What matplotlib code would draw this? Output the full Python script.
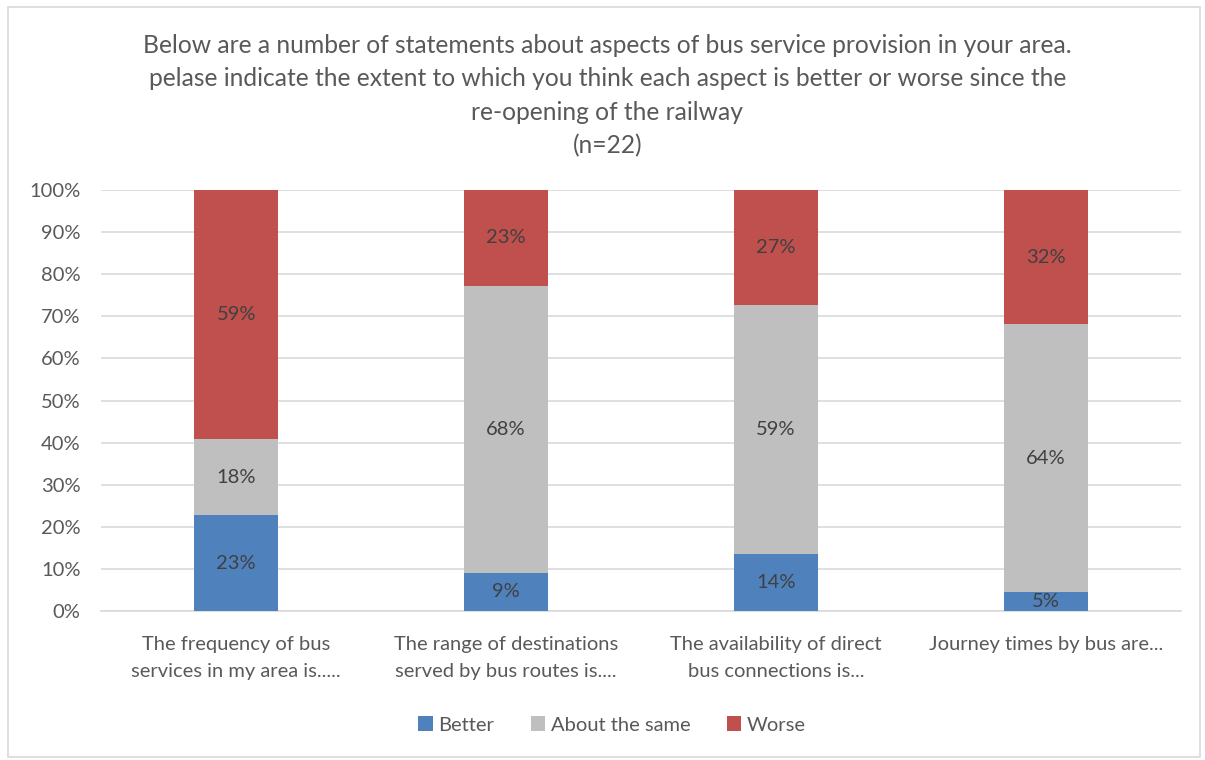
import matplotlib.pyplot as plt
from matplotlib.patches import Rectangle
import numpy as np

plt.rcParams['font.family'] = ['Lato', 'DejaVu Sans']

categories = ['The frequency of bus\nservices in my area is.....',
              'The range of destinations\nserved by bus routes is....',
              'The availability of direct\nbus connections is...',
              'Journey times by bus are...']
better = [22.7, 9.1, 13.6, 4.5]
same = [18.2, 68.2, 59.1, 63.6]
worse = [59.1, 22.7, 27.3, 31.8]
better_lbl = ['23%', '9%', '14%', '5%']
same_lbl = ['18%', '68%', '59%', '64%']
worse_lbl = ['59%', '23%', '27%', '32%']

colors = {'Better': '#4F81BD', 'About the same': '#BFBFBF', 'Worse': '#C0504D'}
text_col = '#595959'
fs = 14.5

fig = plt.figure(figsize=(12.05, 7.6), dpi=100)
ax = fig.add_axes([0.084, 0.196, 0.896, 0.554])

x = np.arange(len(categories))
w = 0.31
b1 = ax.bar(x, better, w, color=colors['Better'], label='Better', zorder=3)
b2 = ax.bar(x, same, w, bottom=better, color=colors['About the same'], label='About the same', zorder=3)
bottom3 = np.array(better) + np.array(same)
b3 = ax.bar(x, worse, w, bottom=bottom3, color=colors['Worse'], label='Worse', zorder=3)

for bars, labels in [(b1, better_lbl), (b2, same_lbl), (b3, worse_lbl)]:
    ax.bar_label(bars, labels=labels, label_type='center', color='#404040', fontsize=fs)

ax.set_xlim(-0.5, len(categories) - 0.5)
ax.set_ylim(0, 100)
ax.set_yticks(range(0, 101, 10))
ax.set_yticklabels([f'{v}%' for v in range(0, 101, 10)], fontsize=fs, color=text_col)
ax.set_xticks(x)
ax.set_xticklabels(categories, fontsize=fs, color=text_col, linespacing=1.7)
ax.tick_params(length=0)
ax.tick_params(axis='y', pad=15)
ax.tick_params(axis='x', pad=18)
ax.grid(axis='y', color='#D9D9D9', linewidth=1.2, zorder=0)
for s in ['top', 'right', 'left']:
    ax.spines[s].set_visible(False)
ax.spines['bottom'].set_color('#D9D9D9')
ax.spines['bottom'].set_linewidth(1.2)

fig.text(0.504, 0.955, 'Below are a number of statements about aspects of bus service provision in your area.\n'
         'pelase indicate the extent to which you think each aspect is better or worse since the\n'
         're-opening of the railway\n(n=22)',
         ha='center', va='top', fontsize=17.7, color=text_col, linespacing=1.54)

fig.legend(loc='center', bbox_to_anchor=(0.508, 0.046), ncol=3, frameon=False,
           fontsize=fs, labelcolor=text_col, handlelength=0.7, handleheight=0.7,
           handletextpad=0.3, columnspacing=1.8)

fig.patches.append(Rectangle((0.007, 0.004), 0.989, 0.987, transform=fig.transFigure,
                             fill=False, edgecolor='#D9D9D9', linewidth=1.2))

fig.savefig('out.png', dpi=100, facecolor='white')
